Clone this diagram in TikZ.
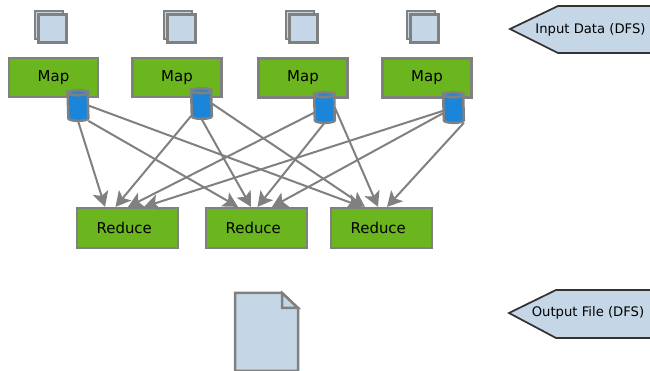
\documentclass[tikz,border=0pt]{standalone}
\usepackage{fontspec}
\setmainfont{DejaVu Sans}
\usetikzlibrary{arrows.meta}
\definecolor{taskgreen}{HTML}{6BB51F}
\definecolor{paleblue}{HTML}{C5D7E6}
\definecolor{diskblue}{HTML}{1A85D9}
\definecolor{edgegray}{HTML}{808080}

\begin{document}
\begin{tikzpicture}[x=0.02cm, y=-0.02cm,
  task/.style={rectangle, draw=edgegray, line width=0.045cm, fill=taskgreen, inner sep=0pt, font=\fontsize{8.5pt}{10pt}\selectfont},
  maptask/.style={task, minimum width=1.78cm, minimum height=0.78cm},
  reducetask/.style={task, minimum width=2.02cm, minimum height=0.8cm, execute at end node={\hspace*{0.13cm}}},
  page/.style={rectangle, draw=edgegray, line width=0.045cm, fill=paleblue, inner sep=0pt, minimum size=0.56cm},
  disk/.style={rectangle, inner sep=0pt, minimum width=0.4cm, minimum height=0.6cm},
  diskline/.style={draw=edgegray, line width=0.05cm, fill=diskblue},
  flow/.style={draw=edgegray, line width=0.04cm, -{Stealth[length=0.3cm, width=0.32cm, inset=0.07cm]}},
  tag/.style={font=\fontsize{7.5pt}{9pt}\selectfont, inner sep=0pt},
  banner/.style={draw=black!80, line width=0.035cm, fill=paleblue},
  ]
  \useasboundingbox (0,0) rectangle (650,371);

  %nodes
  \node at (49,25) [page] (back1) {};
  \node at (52.5,28.5) [page] (front1) {};
  \node at (178,25) [page] (back2) {};
  \node at (181.5,28.5) [page] (front2) {};
  \node at (300,25) [page] (back3) {};
  \node at (303.5,28.5) [page] (front3) {};
  \node at (421,25) [page] (back4) {};
  \node at (424.5,28.5) [page] (front4) {};

  \node at (53.5,77.5) [maptask] (map1) {Map};
  \node at (177,77.5) [maptask] (map2) {Map};
  \node at (303,78) [maptask] (map3) {Map};
  \node at (427,78) [maptask] (map4) {Map};

  \node at (78,105.5) [disk] (disk1) {};
  \node at (201.5,103.5) [disk] (disk2) {};
  \node at (324.5,107.5) [disk] (disk3) {};
  \node at (453.5,107.5) [disk] (disk4) {};

  %disks
  \foreach \d in {disk1,disk2,disk3,disk4} {
    \draw[diskline] ([yshift=-0.05cm]\d.north west) arc[start angle=180, end angle=360, x radius=0.2cm, y radius=0.05cm]
      -- ([yshift=0.05cm]\d.south east) arc[start angle=0, end angle=-180, x radius=0.2cm, y radius=0.05cm] -- cycle;
    \draw[diskline, fill=diskblue!75!edgegray] ([yshift=-0.05cm]\d.north) ellipse[x radius=0.2cm, y radius=0.05cm];
  }

  \node at (127.5,228) [reducetask] (reduce1) {Reduce};
  \node at (256.5,228) [reducetask] (reduce2) {Reduce};
  \node at (381.5,228) [reducetask] (reduce3) {Reduce};

  %connectors
  \draw[flow] (disk1.south) -- ([xshift=-0.45cm]reduce1.north);
  \draw[flow] (disk1.south east) -- ([xshift=-0.37cm]reduce2.north);
  \draw[flow] (disk1.east) -- ([xshift=-0.39cm]reduce3.north);
  \draw[flow] (disk2) -- ([xshift=-0.24cm]reduce1.north);
  \draw[flow] (disk2.south) -- ([xshift=-0.11cm]reduce2.north);
  \draw[flow] (disk2.east) -- ([xshift=-0.33cm]reduce3.north);
  \draw[flow] (disk3) -- ([xshift=0.01cm]reduce1.north);
  \draw[flow] (disk3.south) -- ([xshift=0.02cm]reduce2.north);
  \draw[flow] (disk3.east) -- ([xshift=-0.07cm]reduce3.north);
  \draw[flow] (disk4) -- ([xshift=0.33cm]reduce1.north);
  \draw[flow] (disk4) -- ([xshift=0.31cm]reduce2.north);
  \draw[flow] (disk4.south east) -- ([xshift=0.11cm]reduce3.north);

  %output file
  \draw[draw=edgegray, line width=0.05cm, fill=paleblue] (235,293) -- (282,293) -- (298,308) -- (298,371) -- (235,371) -- cycle;
  \draw[draw=edgegray, line width=0.05cm, fill=paleblue] (282,293) -- (282,308) -- (298,308) -- cycle;

  %side labels
  \draw[banner] (650,6) -- (558,6) -- (510,29) -- (558,53) -- (650,53);
  \node at (590.5,30) [tag] (input) {Input Data (DFS)};
  \draw[banner] (650,290) -- (556,290) -- (509,313) -- (556,338) -- (650,338);
  \node at (588,312.5) [tag] (output) {Output File (DFS)};
\end{tikzpicture}
\end{document}
